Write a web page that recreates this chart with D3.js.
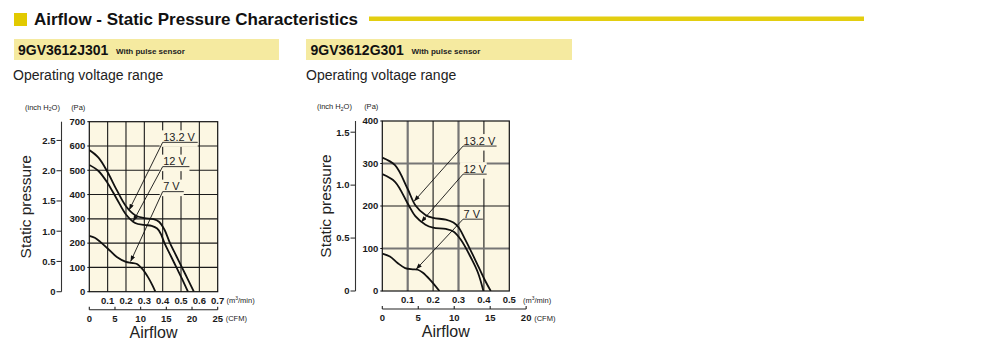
<!DOCTYPE html>
<html><head><meta charset="utf-8">
<script src="https://cdn.jsdelivr.net/npm/d3@7"></script>
<style>
body{margin:0;background:#fff}
svg{display:block;font-family:"Liberation Sans",Arial,Helvetica,sans-serif}
</style>
</head><body>
<svg id="c" width="1000" height="355"></svg>
<script>
// ---------------- DATA ----------------
const pageTitle = "Airflow - Static Pressure Characteristics";
const modelNames = ["9GV3612J301", "9GV3612G301"];
const modelNote = "With pulse sensor";
const rangeLabel = "Operating voltage range";
const voltageLabels = ["13.2 V", "12 V", "7 V"];

// 9GV3612J301 : [airflow m3/min, static pressure Pa]
const j301_v132 = [[0,583],[0.05,552],[0.1,492],[0.15,418],[0.2,352],[0.25,315],[0.3,303],[0.35,299],[0.38,288],[0.41,255],[0.44,200],[0.475,146],[0.505,100],[0.54,47],[0.57,0]];
const j301_v12  = [[0,522],[0.05,497],[0.1,447],[0.15,382],[0.2,318],[0.25,283],[0.3,275],[0.34,271],[0.37,260],[0.39,238],[0.41,200],[0.44,154],[0.475,100],[0.51,46],[0.538,0]];
const j301_v7   = [[0,230],[0.03,222],[0.06,205],[0.1,178],[0.15,143],[0.2,123],[0.23,119],[0.26,114],[0.29,93],[0.32,60],[0.345,25],[0.36,0]];
const j301_m3Ticks   = [0.1,0.2,0.3,0.4,0.5,0.6,0.7];
const j301_cfmTicks  = [0,5,10,15,20,25];
const j301_paTicks   = [0,100,200,300,400,500,600,700];
const j301_inchTicks = [0,0.5,1.0,1.5,2.0,2.5];
// label anchor (underline start) and arrow target, in [m3/min, Pa]
const j301_labelAt  = [[0.4,615],[0.4,515],[0.4,412]];
const j301_labelEnd = [0.591,0.546,0.515];
const j301_arrowTo  = [[0.217,336],[0.239,289],[0.225,124]];

// 9GV3612G301
const g301_v132 = [[0,314],[0.05,296],[0.1,240],[0.13,202],[0.17,179],[0.2,172],[0.25,168],[0.28,161],[0.3,150],[0.324,124],[0.363,77],[0.4,30],[0.427,0]];
const g301_v12  = [[0,275],[0.05,257],[0.1,206],[0.13,176],[0.17,156],[0.2,149],[0.25,146],[0.28,140],[0.31,120],[0.35,77],[0.376,44],[0.398,0]];
const g301_v7   = [[0,88],[0.03,81],[0.06,66],[0.09,54],[0.12,51],[0.14,50],[0.16,43],[0.19,25],[0.225,0]];
const g301_m3Ticks   = [0.1,0.2,0.3,0.4,0.5];
const g301_cfmTicks  = [0,5,10,15,20];
const g301_paTicks   = [0,100,200,300,400];
const g301_inchTicks = [0,0.5,1.0,1.5];
const g301_labelAt  = [[0.318,341],[0.318,275],[0.318,169]];
const g301_labelEnd = [0.45,0.411,0.396];
const g301_arrowTo  = [[0.125,211],[0.153,162],[0.133,51]];

const PA_PER_INCH = 249.089;

// ---------------- DRAW ----------------
const svg = d3.select("#c");
const defs = svg.append("defs");
defs.append("marker").attr("id","arr").attr("viewBox","0 0 8 6")
  .attr("refX",8).attr("refY",3).attr("markerWidth",6.5).attr("markerHeight",4.5)
  .attr("orient","auto").attr("markerUnits","userSpaceOnUse")
  .append("path").attr("d","M0,0 L8,3 L0,6 Z").attr("fill","#111");

// header
svg.append("rect").attr("x",14).attr("y",13).attr("width",13).attr("height",13).attr("fill","#e2ca00");
svg.append("text").attr("x",34).attr("y",25).attr("font-size",17).attr("font-weight","bold").attr("fill","#111").text(pageTitle);
svg.append("rect").attr("x",369).attr("y",16.5).attr("width",495).attr("height",4.5).attr("fill","#e3ce10");

const panels = [
  {bandX:14, bandW:265, nameX:18, noteX:116, textX:13},
  {bandX:306, bandW:266, nameX:310.5, noteX:411.5, textX:306}
];
panels.forEach((p,i)=>{
  svg.append("rect").attr("x",p.bandX).attr("y",39).attr("width",p.bandW).attr("height",21).attr("fill","#f5eaa0");
  svg.append("text").attr("x",p.nameX).attr("y",54.5).attr("font-size",14).attr("font-weight","bold").attr("fill","#111").text(modelNames[i]);
  svg.append("text").attr("x",p.noteX).attr("y",54).attr("font-size",8).attr("font-weight","bold").attr("fill","#222").text(modelNote);
  svg.append("text").attr("x",p.textX).attr("y",80).attr("font-size",14).attr("fill","#222").text(rangeLabel);
});

function drawChart(c){
  const g = svg.append("g");
  const x = d3.scaleLinear().domain([0,c.xMax]).range([c.left, c.left + c.w]);
  const y = d3.scaleLinear().domain([0,c.yMax]).range([c.top + c.h, c.top]);
  const xc = d3.scaleLinear().domain([0,1]).range([x(0), x(c.cfmToM3)]);
  const bottom = c.top + c.h;
  const tickFont = {size:9.5, weight:"bold", fill:"#1a1a1a"};

  g.append("rect").attr("x",c.left).attr("y",c.top).attr("width",c.w).attr("height",c.h).attr("fill","#fcf7e3");

  const xg = c.m3Ticks.filter(v=>v<c.xMax);
  g.selectAll(null).data(xg).enter().append("line")
    .attr("x1",d=>x(d)).attr("x2",d=>x(d)).attr("y1",c.top).attr("y2",bottom)
    .attr("stroke",(d,i)=>c.alt && i%2===0 ? "#767676" : "#1a1a1a")
    .attr("stroke-width",(d,i)=>c.alt && i%2===0 ? 2.2 : 1.1);
  const yg = c.paTicks.filter(v=>v>0 && v<c.yMax);
  g.selectAll(null).data(yg).enter().append("line")
    .attr("y1",d=>y(d)).attr("y2",d=>y(d)).attr("x1",c.left).attr("x2",c.left+c.w)
    .attr("stroke",(d,i)=>c.alt && i%2===0 ? "#767676" : "#1a1a1a")
    .attr("stroke-width",(d,i)=>c.alt && i%2===0 ? 2.2 : 1.1);

  const clipId = "clip"+c.id;
  defs.append("clipPath").attr("id",clipId).append("rect")
    .attr("x",c.left).attr("y",c.top).attr("width",c.w).attr("height",c.h);
  const line = d3.line().x(d=>x(d[0])).y(d=>y(d[1])).curve(d3.curveCatmullRom.alpha(0.5));
  g.append("g").attr("clip-path",`url(#${clipId})`).selectAll(null).data(c.series).enter().append("path")
    .attr("d",line).attr("fill","none").attr("stroke","#111").attr("stroke-width",1.8);

  c.labels.forEach((lab,i)=>{
    const lx = x(c.labelAt[i][0]), ly = y(c.labelAt[i][1]), rx = x(c.labelEnd[i]);
    g.append("rect").attr("x",lx-3).attr("y",ly-12).attr("width",rx-lx+3).attr("height",16.5).attr("fill","#fcf7e3");
    g.append("text").attr("x",lx+0.5).attr("y",ly-1.5).attr("font-size",11).attr("fill","#222").text(lab);
    g.append("line").attr("x1",lx).attr("x2",rx).attr("y1",ly).attr("y2",ly).attr("stroke","#333").attr("stroke-width",1);
    g.append("line").attr("x1",lx).attr("y1",ly).attr("x2",x(c.arrowTo[i][0])).attr("y2",y(c.arrowTo[i][1]))
      .attr("stroke","#111").attr("stroke-width",0.9).attr("marker-end","url(#arr)");
  });

  g.append("rect").attr("x",c.left).attr("y",c.top).attr("width",c.w).attr("height",c.h)
    .attr("fill","none").attr("stroke","#111").attr("stroke-width",1.2);

  g.selectAll(null).data(c.paTicks).enter().append("text")
    .attr("x",c.left-4).attr("y",d=>y(d)).attr("dy","0.35em").attr("text-anchor","end")
    .attr("font-size",tickFont.size).attr("font-weight",tickFont.weight).attr("fill",tickFont.fill).text(d=>d);
  g.selectAll(null).data(c.paTicks).enter().append("line")
    .attr("x1",c.left-2).attr("x2",c.left).attr("y1",d=>y(d)).attr("y2",d=>y(d)).attr("stroke","#111");

  const yi = d3.scaleLinear().domain([0,c.yMax/PA_PER_INCH]).range([bottom, c.top]);
  g.append("line").attr("x1",c.inchX).attr("x2",c.inchX).attr("y1",c.top).attr("y2",bottom).attr("stroke","#333").attr("stroke-width",1.1);
  g.selectAll(null).data(c.inchTicks).enter().append("line")
    .attr("x1",c.inchX-5).attr("x2",c.inchX).attr("y1",d=>yi(d)).attr("y2",d=>yi(d)).attr("stroke","#333").attr("stroke-width",1.1);
  g.selectAll(null).data(c.inchTicks).enter().append("text")
    .attr("x",c.inchX-6).attr("y",d=>yi(d)).attr("dy","0.35em").attr("text-anchor","end")
    .attr("font-size",tickFont.size).attr("font-weight",tickFont.weight).attr("fill",tickFont.fill).text(d=>d===0?"0":d.toFixed(1));

  const ih = g.append("text").attr("x",c.inchUnitX).attr("y",c.top-12).attr("font-size",7.5).attr("fill","#222");
  ih.append("tspan").text("(inch H");
  ih.append("tspan").attr("font-size",5).attr("dy",1.5).text("2");
  ih.append("tspan").attr("dy",-1.5).text("O)");
  g.append("text").attr("x",c.left-4).attr("y",c.top-12).attr("text-anchor","end").attr("font-size",7.5).attr("fill","#222").text("(Pa)");

  g.append("text").attr("transform",`translate(${c.titleYX},${c.top+c.h/2}) rotate(-90)`)
    .attr("text-anchor","middle").attr("font-size",15.5).attr("fill","#222").text("Static pressure");

  g.selectAll(null).data(c.m3Ticks).enter().append("text")
    .attr("x",d=>x(d)).attr("y",bottom+12).attr("text-anchor","middle")
    .attr("font-size",tickFont.size).attr("font-weight",tickFont.weight).attr("fill",tickFont.fill).text(d=>d.toFixed(1));
  const mu = g.append("text").attr("x",c.m3UnitX).attr("y",bottom+11.5).attr("font-size",7.5).attr("fill","#222");
  mu.append("tspan").text("(m");
  mu.append("tspan").attr("font-size",5).attr("dy",-3).text("3");
  mu.append("tspan").attr("dy",3).text("/min)");

  const cfmY = bottom + 18;
  const cfmMax = d3.max(c.cfmTicks);
  g.append("line").attr("x1",xc(0)).attr("x2",xc(cfmMax)).attr("y1",cfmY).attr("y2",cfmY).attr("stroke","#222").attr("stroke-width",1.1);
  g.selectAll(null).data(c.cfmTicks).enter().append("line")
    .attr("x1",d=>xc(d)).attr("x2",d=>xc(d)).attr("y1",cfmY-3).attr("y2",cfmY).attr("stroke","#222").attr("stroke-width",1.1);
  g.selectAll(null).data(c.cfmTicks).enter().append("text")
    .attr("x",d=>xc(d)).attr("y",cfmY+12).attr("text-anchor","middle")
    .attr("font-size",tickFont.size).attr("font-weight",tickFont.weight).attr("fill",tickFont.fill).text(d=>d);
  g.append("text").attr("x",xc(cfmMax)+8).attr("y",cfmY+11.5).attr("font-size",7.5).attr("fill","#222").text("(CFM)");

  g.append("text").attr("x",c.left+c.w/2).attr("y",bottom+46).attr("text-anchor","middle")
    .attr("font-size",16).attr("fill","#222").text("Airflow");
}

drawChart({
  id:1, left:89.3, top:121.7, w:128.4, h:170, xMax:0.7, yMax:700,
  series:[j301_v132, j301_v12, j301_v7],
  m3Ticks:j301_m3Ticks, cfmTicks:j301_cfmTicks, cfmToM3:0.7/25,
  paTicks:j301_paTicks, inchTicks:j301_inchTicks,
  labels:voltageLabels, labelAt:j301_labelAt, labelEnd:j301_labelEnd, arrowTo:j301_arrowTo,
  alt:false, inchX:61.5, inchUnitX:25, titleYX:31, m3UnitX:226.5
});
drawChart({
  id:2, left:382.3, top:121, w:127, h:170, xMax:0.5, yMax:400,
  series:[g301_v132, g301_v12, g301_v7],
  m3Ticks:g301_m3Ticks, cfmTicks:g301_cfmTicks, cfmToM3:0.0283168,
  paTicks:g301_paTicks, inchTicks:g301_inchTicks,
  labels:voltageLabels, labelAt:g301_labelAt, labelEnd:g301_labelEnd, arrowTo:g301_arrowTo,
  alt:true, inchX:355.5, inchUnitX:317, titleYX:330.5, m3UnitX:523
});
</script>
</body></html>
